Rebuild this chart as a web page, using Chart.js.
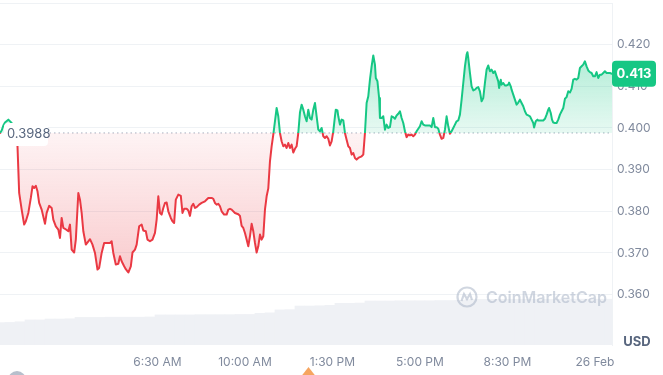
<!DOCTYPE html>
<html><head><meta charset="utf-8">
<script src="https://cdn.jsdelivr.net/npm/chart.js@4.4.1/dist/chart.umd.min.js"></script>
<style>html,body{margin:0;padding:0;background:#fff;overflow:hidden}canvas{display:block}</style>
</head><body>
<canvas id="c" width="663" height="375" style="width:663px;height:375px"></canvas>
<script>
// time = minutes since 25 Feb 00:00
const times = [
  12,16,20,24,32,40,46,50,54,56,
  58,64,70,74,80,86,90,94,98,102,
  106,112,120,124,130,136,140,146,152,156,
  160,164,168,176,180,184,190,194,200,204,
  208,212,218,224,228,234,240,246,250,256,
  262,268,276,280,284,290,296,300,304,310,
  314,320,326,330,336,340,346,352,356,362,
  366,372,378,384,388,392,396,400,404,408,
  412,416,422,426,430,434,440,446,450,454,
  460,464,468,472,476,480,484,490,496,504,
  512,520,524,528,532,536,540,544,550,556,
  560,564,568,576,584,588,592,596,600,604,
  608,612,616,620,624,628,632,636,640,644,
  648,652,656,660,664,668,672,676,680,684,
  688,692,696,700,704,708,712,716,720,724,
  728,732,736,740,744,748,752,756,760,764,
  768,772,776,780,784,788,792,796,800,804,
  808,812,816,818,822,824,828,832,836,840,
  844,848,852,856,860,864,868,872,876,880,
  884,888,892,896,900,904,908,912,914,918,
  922,924,928,932,936,940,944,948,952,956,
  960,964,968,972,976,980,984,988,992,996,
  1000,1004,1008,1012,1016,1020,1024,1028,1032,1036,
  1044,1048,1052,1056,1060,1064,1068,1072,1076,1080,
  1084,1088,1092,1096,1100,1104,1108,1112,1116,1120,
  1124,1128,1132,1134,1136,1140,1144,1148,1152,1156,
  1160,1164,1168,1172,1176,1180,1184,1188,1192,1196,
  1200,1204,1208,1210,1214,1216,1220,1224,1228,1232,
  1234,1238,1240,1244,1248,1252,1256,1260,1264,1268,
  1272,1276,1280,1284,1288,1292,1294,1298,1302,1304,
  1308,1312,1316,1320,1324,1328,1330,1334,1337,1340,
  1344,1348,1352,1356,1360,1364,1368,1372,1376,1380,
  1384,1388,1392,1396,1400,1404,1408,1412,1416,1420,
  1424,1428,1432,1436,1440,1444,1448,1452,1456,1460,
  1464,1468,1472,1476,1481
];
const prices = [
  0.3988,0.3994,0.4006,0.4013,0.4020,0.4012,0.3991,0.3972,0.3956,0.3900,
  0.3844,0.3804,0.3768,0.3776,0.3796,0.3832,0.3860,0.3856,0.3861,0.3848,
  0.3820,0.3804,0.3770,0.3796,0.3813,0.3808,0.3780,0.3764,0.3756,0.3736,
  0.3784,0.3760,0.3758,0.3752,0.3768,0.3708,0.3701,0.3732,0.3844,0.3828,
  0.3796,0.3752,0.3720,0.3728,0.3733,0.3720,0.3700,0.3660,0.3664,0.3700,
  0.3724,0.3724,0.3724,0.3728,0.3700,0.3672,0.3674,0.3692,0.3680,0.3668,
  0.3661,0.3653,0.3668,0.3701,0.3708,0.3720,0.3764,0.3768,0.3754,0.3752,
  0.3732,0.3728,0.3732,0.3748,0.3780,0.3836,0.3796,0.3792,0.3808,0.3820,
  0.3821,0.3800,0.3784,0.3776,0.3772,0.3828,0.3840,0.3837,0.3796,0.3806,
  0.3806,0.3802,0.3789,0.3812,0.3818,0.3808,0.3810,0.3816,0.3820,0.3824,
  0.3832,0.3832,0.3830,0.3820,0.3816,0.3818,0.3812,0.3800,0.3792,0.3792,
  0.3804,0.3806,0.3804,0.3796,0.3793,0.3789,0.3765,0.3760,0.3748,0.3732,
  0.3716,0.3740,0.3770,0.3752,0.3724,0.3701,0.3716,0.3744,0.3732,0.3740,
  0.3804,0.3836,0.3855,0.3920,0.3956,0.3984,0.4016,0.4048,0.4028,0.3988,
  0.3968,0.3956,0.3960,0.3952,0.3964,0.3952,0.3960,0.3941,0.3950,0.3956,
  0.3988,0.4037,0.4056,0.4044,0.4028,0.4016,0.4044,0.4024,0.4020,0.4044,
  0.4060,0.4028,0.3996,0.3992,0.4000,0.3980,0.3976,0.3980,0.3974,0.3958,
  0.3968,0.3992,0.4028,0.4044,0.4042,0.4028,0.4008,0.4020,0.4018,0.3988,
  0.3972,0.3956,0.3952,0.3936,0.3940,0.3928,0.3924,0.3928,0.3930,0.3932,
  0.3936,0.3988,0.4060,0.4076,0.4116,0.4148,0.4174,0.4152,0.4120,0.4112,
  0.4072,0.4024,0.4024,0.4028,0.3996,0.4008,0.4000,0.4002,0.4028,0.4026,
  0.4022,0.4030,0.4034,0.4040,0.4024,0.4012,0.3992,0.3978,0.3984,0.3982,
  0.3984,0.3980,0.3984,0.3992,0.3998,0.4004,0.4016,0.4008,0.4006,0.4006,
  0.4006,0.4002,0.4024,0.4002,0.4002,0.3998,0.3984,0.3974,0.3976,0.3996,
  0.4028,0.4004,0.3986,0.3992,0.4000,0.4008,0.4016,0.4018,0.4032,0.4068,
  0.4108,0.4148,0.4176,0.4182,0.4168,0.4132,0.4100,0.4090,0.4092,0.4096,
  0.4098,0.4088,0.4064,0.4072,0.4108,0.4140,0.4150,0.4136,0.4140,0.4132,
  0.4136,0.4124,0.4112,0.4096,0.4116,0.4104,0.4108,0.4102,0.4102,0.4104,
  0.4109,0.4100,0.4092,0.4080,0.4068,0.4056,0.4061,0.4068,0.4060,0.4052,
  0.4040,0.4032,0.4030,0.4028,0.4020,0.4012,0.4001,0.4016,0.4020,0.4018,
  0.4018,0.4018,0.4018,0.4022,0.4032,0.4044,0.4048,0.4036,0.4020,0.4013,
  0.4012,0.4012,0.4020,0.4032,0.4040,0.4048,0.4070,0.4074,0.4088,0.4085,
  0.4094,0.4116,0.4118,0.4116,0.4120,0.4144,0.4148,0.4152,0.4160,0.4148,
  0.4138,0.4134,0.4132,0.4124,0.4124,0.4134,0.4120,0.4128,0.4128,0.4132,
  0.4136,0.4132,0.4132,0.4132,0.4130
];
const volTimes = [
  12,36,60,84,108,132,156,180,204,228,252,276,300,324,348,372,
  396,420,444,468,492,516,540,564,588,612,636,660,684,708,732,756,
  780,804,828,852,876,900,924,948,972,996,1020,1044,1068,1092,1116,1140,
  1164,1188,1212,1236,1260,1284,1308,1332,1356,1380,1404,1428,1452,1476
];
const volumes = [
  98,99,102,110,110,114,114,115,121,121,121,122,122,122,122,123,
  132,132,132,132,133,133,133,133,134,134,139,141,154,155,171,171,
  172,174,183,183,184,193,193,193,194,194,194,194,195,195,196,200,
  200,200,200,200,200,200,200,200,201,201,201,201,201,201
];
const openPrice = 0.3988;
const lastPrice = 0.413;
const xTickValues = [390, 600, 810, 1020, 1230, 1440];
const xTickLabels = ['6:30 AM', '10:00 AM', '1:30 PM', '5:00 PM', '8:30 PM', '26 Feb'];
const yTickValues = [0.36, 0.37, 0.38, 0.39, 0.40, 0.41, 0.42, 0.43];

const GREEN = '#16c784', RED = '#ea3943', TXT = '#808a9d', GRID = '#eff2f5';
const FONT = 'Inter, "Noto Sans", sans-serif';

function strokeGrad(ctx) {
  const c = ctx.chart, a = c.chartArea;
  if (!a) return GREEN;
  const yb = c.scales.y.getPixelForValue(openPrice);
  const f = Math.min(1, Math.max(0, (yb - a.top) / (a.bottom - a.top)));
  const g = c.ctx.createLinearGradient(0, a.top, 0, a.bottom);
  g.addColorStop(0, GREEN); g.addColorStop(f, GREEN);
  g.addColorStop(f, RED); g.addColorStop(1, RED);
  return g;
}
function fillOpt(ctx) {
  const c = ctx.chart, a = c.chartArea;
  const t = {value: openPrice};
  if (!a) return {target: t, above: 'rgba(22,199,132,0.15)', below: 'rgba(234,57,67,0.1)'};
  const ys = c.scales.y;
  const yb = ys.getPixelForValue(openPrice);
  const yTop = ys.getPixelForValue(Math.max(...prices));
  const yBot = ys.getPixelForValue(Math.min(...prices));
  const ga = c.ctx.createLinearGradient(0, yTop, 0, yb);
  ga.addColorStop(0, 'rgba(22,199,132,0.34)');
  ga.addColorStop(1, 'rgba(22,199,132,0.10)');
  const gb = c.ctx.createLinearGradient(0, yb, 0, yBot);
  gb.addColorStop(0, 'rgba(234,57,67,0.06)');
  gb.addColorStop(1, 'rgba(234,57,67,0.26)');
  return {target: t, above: ga, below: gb};
}
function rr(ctx, x, y, w, h, r) {
  ctx.beginPath();
  ctx.moveTo(x + r, y); ctx.lineTo(x + w - r, y); ctx.quadraticCurveTo(x + w, y, x + w, y + r);
  ctx.lineTo(x + w, y + h - r); ctx.quadraticCurveTo(x + w, y + h, x + w - r, y + h);
  ctx.lineTo(x + r, y + h); ctx.quadraticCurveTo(x, y + h, x, y + h - r);
  ctx.lineTo(x, y + r); ctx.quadraticCurveTo(x, y, x + r, y); ctx.closePath();
}

const overlay = {
  id: 'overlay',
  afterDraw(chart) {
    const {ctx, chartArea: a, scales} = chart;
    const y = scales.y;
    ctx.save();
    // watermark
    const cx = 467, cy = 297;
    ctx.strokeStyle = 'rgba(170,180,198,0.55)'; ctx.lineWidth = 2.2;
    ctx.beginPath(); ctx.arc(cx, cy, 9.5, 0, Math.PI * 2); ctx.stroke();
    ctx.beginPath(); ctx.moveTo(cx - 5.5, cy + 4); ctx.lineTo(cx - 3, cy - 3); ctx.lineTo(cx, cy + 2);
    ctx.lineTo(cx + 3, cy - 3); ctx.lineTo(cx + 5, cy + 3); ctx.stroke();
    ctx.fillStyle = 'rgba(170,180,198,0.55)';
    ctx.font = '600 16px ' + FONT; ctx.textAlign = 'left'; ctx.textBaseline = 'middle';
    ctx.fillText('CoinMarketCap', 486, 298);
    // open price label
    const yb = y.getPixelForValue(openPrice);
    ctx.fillStyle = '#ffffff';
    rr(ctx, 4, yb - 10, 44, 23, 4); ctx.fill();
    ctx.fillStyle = '#58667e'; ctx.font = '13px ' + FONT;
    ctx.textAlign = 'left'; ctx.textBaseline = 'middle';
    ctx.fillText(openPrice.toFixed(4), 7, yb + 1.5);
    // last price tag
    const yl = y.getPixelForValue(lastPrice);
    ctx.fillStyle = GREEN;
    rr(ctx, a.right, yl - 13, 44, 26, 4); ctx.fill();
    ctx.fillStyle = '#ffffff'; ctx.font = 'bold 13px ' + FONT; ctx.textAlign = 'center';
    ctx.fillText(lastPrice.toFixed(3), a.right + 22, yl + 0.5);
    // currency
    ctx.fillStyle = '#58667e'; ctx.font = 'bold 13px ' + FONT; ctx.textAlign = 'center';
    ctx.fillText('USD', 637, 342);
    // event markers
    ctx.fillStyle = '#b7bfcc';
    ctx.beginPath(); ctx.arc(17, 380, 9, 0, Math.PI * 2); ctx.fill();
    ctx.fillStyle = '#f6a560';
    ctx.beginPath(); ctx.moveTo(301.5, 376); ctx.lineTo(308.5, 367); ctx.lineTo(315.5, 376); ctx.closePath(); ctx.fill();
    ctx.restore();
  }
};

new Chart(document.getElementById('c'), {
  type: 'line',
  data: {
    datasets: [
      {
        type: 'line', label: 'Price', order: 1,
        data: times.map((t, i) => ({x: t, y: prices[i]})),
        borderColor: strokeGrad, borderWidth: 2, pointRadius: 0, tension: 0,
        borderJoinStyle: 'round', borderCapStyle: 'round',
        fill: fillOpt, yAxisID: 'y'
      },
      {
        type: 'line', label: 'Open', order: 2,
        data: [{x: times[0], y: openPrice}, {x: times[times.length - 1], y: openPrice}],
        borderColor: '#a7b0c0', borderWidth: 1, borderDash: [1.5, 3], pointRadius: 0, fill: false, yAxisID: 'y'
      },
      {
        type: 'bar', label: 'Volume', order: 3,
        data: volTimes.map((t, i) => ({x: t, y: volumes[i]})),
        backgroundColor: '#eff1f5', borderWidth: 0, barPercentage: 1, categoryPercentage: 1,
        yAxisID: 'yv'
      }
    ]
  },
  options: {
    responsive: false, animation: false,
    layout: {padding: {top: 3, left: 0, right: 0, bottom: 0}},
    plugins: {legend: {display: false}, tooltip: {enabled: false}},
    scales: {
      x: {
        type: 'linear', min: times[0], max: times[times.length - 1], offset: false,
        grid: {display: false, drawTicks: false}, border: {display: false},
        ticks: {color: TXT, font: {family: FONT, size: 12}, padding: 10, maxRotation: 0, autoSkip: false,
          callback: (v) => { const i = xTickValues.indexOf(v); return i >= 0 ? xTickLabels[i] : ''; }},
        afterBuildTicks: (ax) => { ax.ticks = xTickValues.map(v => ({value: v})); },
        afterFit: (ax) => { ax.height = 30; ax.paddingLeft = 0; ax.paddingRight = 0; }
      },
      y: {
        type: 'linear', position: 'right', min: 0.3479, max: 0.430,
        grid: {color: GRID, drawTicks: false}, border: {display: true, color: GRID},
        ticks: {color: TXT, font: {family: FONT, size: 12}, padding: 5,
          callback: (v) => (v > 0.4295 ? '' : v.toFixed(3))},
        afterBuildTicks: (ax) => { ax.ticks = yTickValues.map(v => ({value: v})); },
        afterFit: (ax) => { ax.width = 51; ax.paddingTop = 0; ax.paddingBottom = 0; }
      },
      yv: {type: 'linear', display: false, min: 0, max: 1500}
    }
  },
  plugins: [overlay]
});
</script>
</body></html>
